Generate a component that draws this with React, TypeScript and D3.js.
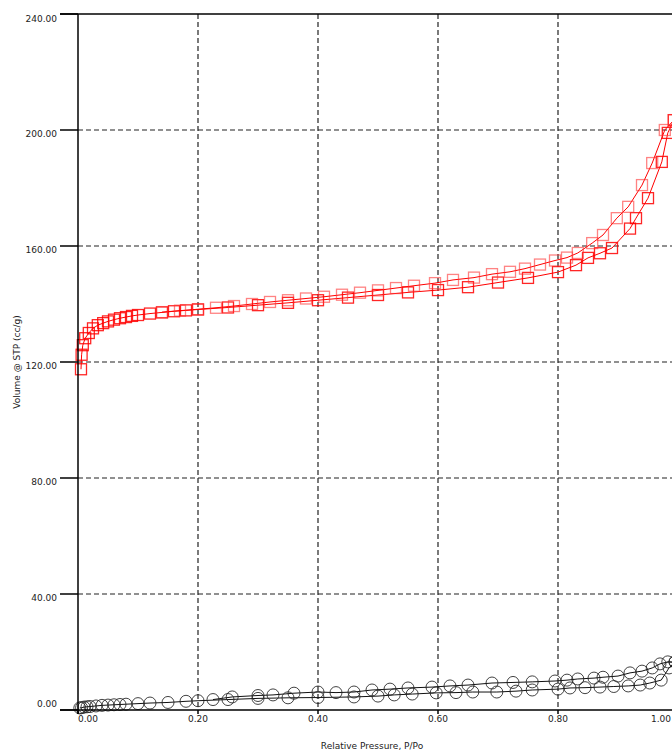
import React from "react";
import * as d3 from "d3";

// ---- Data ----
const xTicks = [0, 0.2, 0.4, 0.6, 0.8, 1.0];
const yTicks = [0, 40, 80, 120, 160, 200, 240];
const xTitle = "Relative Pressure, P/Po";
const yTitle = "Volume @ STP (cc/g)";

// Red sample: adsorption branch [P/Po, volume]
const redAdsP = [0.005, 0.006, 0.008, 0.012, 0.018, 0.025, 0.033, 0.042, 0.05, 0.06, 0.07, 0.08, 0.09, 0.1, 0.12, 0.14, 0.16, 0.18, 0.2, 0.25, 0.3, 0.35, 0.4, 0.45, 0.5, 0.55, 0.6, 0.65, 0.7, 0.75, 0.8, 0.83, 0.85, 0.87, 0.89, 0.92, 0.93, 0.95, 0.973, 0.983, 0.993];
const redAdsV = [117.5, 122.5, 125.8, 128.2, 130, 131.6, 132.7, 133.4, 134, 134.6, 135.1, 135.5, 135.9, 136.2, 136.7, 137.1, 137.5, 137.8, 138.1, 138.8, 139.6, 140.4, 141.3, 142.2, 143.1, 144, 144.8, 145.8, 147.4, 149, 151, 153.4, 155.9, 157.5, 159.3, 166, 169.6, 176.5, 189, 199, 203.4];
// Red sample: desorption branch
const redDesP = [0.993, 0.978, 0.957, 0.94, 0.917, 0.898, 0.875, 0.857, 0.833, 0.815, 0.795, 0.77, 0.745, 0.72, 0.69, 0.66, 0.625, 0.595, 0.56, 0.53, 0.5, 0.47, 0.44, 0.41, 0.38, 0.35, 0.32, 0.29, 0.26, 0.23, 0.2, 0.17, 0.14];
const redDesV = [203.4, 200, 188.6, 181, 173.5, 169.6, 163.8, 161, 157.6, 156, 155, 153.6, 152.2, 151.1, 150.3, 149.1, 148.3, 147.2, 146.3, 145.5, 144.7, 143.9, 143.2, 142.5, 141.9, 141.3, 140.7, 140, 139.3, 138.7, 138.2, 137.7, 137.2];

// Black sample: adsorption branch
const blkAdsP = [0.003, 0.006, 0.01, 0.015, 0.02, 0.03, 0.04, 0.05, 0.06, 0.07, 0.08, 0.1, 0.12, 0.15, 0.18, 0.2, 0.25, 0.3, 0.35, 0.4, 0.46, 0.5, 0.527, 0.557, 0.597, 0.63, 0.658, 0.698, 0.73, 0.757, 0.8, 0.82, 0.845, 0.87, 0.893, 0.917, 0.937, 0.953, 0.972, 0.985, 0.995];
const blkAdsV = [0.7, 0.8, 1.0, 1.1, 1.2, 1.4, 1.6, 1.7, 1.8, 1.9, 2.0, 2.2, 2.4, 2.6, 3.0, 3.2, 3.6, 4.0, 4.2, 4.3, 4.5, 4.8, 5.2, 5.5, 5.9, 6.0, 6.2, 6.2, 6.5, 6.9, 7.2, 7.6, 7.7, 7.9, 8.1, 8.3, 8.6, 9.3, 10.3, 14.5, 16.6];
// Black sample: desorption branch
const blkDesP = [0.995, 0.983, 0.97, 0.957, 0.94, 0.92, 0.9, 0.875, 0.86, 0.833, 0.815, 0.795, 0.757, 0.725, 0.69, 0.65, 0.62, 0.59, 0.55, 0.52, 0.49, 0.46, 0.43, 0.4, 0.36, 0.325, 0.3, 0.257, 0.225];
const blkDesV = [16.6, 16.6, 15.9, 14.5, 13.4, 12.8, 11.7, 11.3, 11.0, 10.7, 10.3, 10.0, 9.7, 9.5, 9.3, 8.6, 8.3, 7.9, 7.6, 7.2, 6.9, 6.2, 6.0, 6.2, 5.8, 5.2, 5.0, 4.5, 3.6];

const W = 672;
const H = 754;
const font = "'DejaVu Sans', Verdana, sans-serif";

export default function App() {
  const x = d3.scaleLinear().domain([0, 1]).range([78, 678]);
  const y = d3.scaleLinear().domain([0, 240]).range([710, 14]);

  const toPts = (ps: number[], vs: number[]) => ps.map((p, i) => [p, vs[i]] as [number, number]);
  const line = d3
    .line<[number, number]>()
    .x((d) => x(d[0]))
    .y((d) => y(d[1]));

  const redAds = toPts(redAdsP, redAdsV);
  const redDes = toPts(redDesP, redDesV);
  const blkAds = toPts(blkAdsP, blkAdsV);
  const blkDes = toPts(blkDesP, blkDesV);

  const sq = 11;

  return (
    <svg
      width={W}
      height={H}
      style={{ position: "absolute", left: 0, top: 0, background: "#fff" }}
      fontFamily={font}
    >
      <rect x={0} y={0} width={W} height={H} fill="#fff" />
      {/* gridlines */}
      {xTicks.slice(1, -1).map((t) => (
        <line key={"gx" + t} x1={x(t)} x2={x(t)} y1={y(240)} y2={y(0)} stroke="#222" strokeWidth={1.2} strokeDasharray="5,3" />
      ))}
      {yTicks.slice(1, -1).map((t) => (
        <line key={"gy" + t} x1={x(0)} x2={W} y1={y(t)} y2={y(t)} stroke="#222" strokeWidth={1.2} strokeDasharray="5,3" />
      ))}

      {/* black series */}
      <g>
        <path d={line(blkAds) || ""} fill="none" stroke="#111" strokeWidth={1} />
        <path d={line(blkDes) || ""} fill="none" stroke="#111" strokeWidth={1} />
        {[...blkAds, ...blkDes].map((d, i) => (
          <circle key={"bc" + i} cx={x(d[0])} cy={y(d[1])} r={6} fill="none" stroke="#222" strokeWidth={1} strokeOpacity={0.85} />
        ))}
      </g>

      {/* red series */}
      <g>
        <path d={line(redAds) || ""} fill="none" stroke="#ff0000" strokeWidth={1} />
        <path d={line(redDes) || ""} fill="none" stroke="#ff0000" strokeWidth={1} />
        {redAds.map((d, i) => (
          <rect key={"ra" + i} x={x(d[0]) - sq / 2} y={y(d[1]) - sq / 2} width={sq} height={sq} fill="none" stroke="#ff0000" strokeWidth={1.3} strokeOpacity={0.85} />
        ))}
        {redDes.map((d, i) => (
          <rect key={"rd" + i} x={x(d[0]) - sq / 2} y={y(d[1]) - sq / 2} width={sq} height={sq} fill="none" stroke="#ff3030" strokeWidth={1.3} strokeOpacity={0.6} />
        ))}
      </g>

      {/* frame / axes */}
      <line x1={60} x2={W} y1={y(240)} y2={y(240)} stroke="#000" strokeWidth={1.5} />
      <line x1={x(0)} x2={x(0)} y1={y(240)} y2={y(0) + 4} stroke="#000" strokeWidth={1.5} />
      <line x1={60} x2={W} y1={y(0)} y2={y(0)} stroke="#000" strokeWidth={1.5} />

      {yTicks.map((t, i) => {
        const last = i === yTicks.length - 1;
        const first = i === 0;
        const ty = first ? y(t) - 3 : last ? y(t) + 8 : y(t) + 7;
        return (
          <g key={"yt" + t}>
            <line x1={60} x2={x(0)} y1={y(t)} y2={y(t)} stroke="#000" strokeWidth={1.5} />
            <text x={57} y={ty} textAnchor="end" fontSize={9} fill="#222">
              {t.toFixed(2)}
            </text>
          </g>
        );
      })}
      {xTicks.map((t, i) => {
        const first = i === 0;
        const last = i === xTicks.length - 1;
        return (
          <g key={"xt" + t}>
            <line x1={x(t)} x2={x(t)} y1={y(0)} y2={y(0) + 4} stroke="#000" strokeWidth={1.5} />
            <text
              x={last ? Math.min(x(t), W - 1) : x(t)}
              y={722}
              textAnchor={first ? "start" : last ? "end" : "middle"}
              fontSize={9}
              fill="#222"
            >
              {t.toFixed(2)}
            </text>
          </g>
        );
      })}

      <text x={372} y={749} textAnchor="middle" fontSize={9} fill="#222">
        {xTitle}
      </text>
      <text transform={`translate(20,362) rotate(-90)`} textAnchor="middle" fontSize={9} fill="#222">
        {yTitle}
      </text>
    </svg>
  );
}
